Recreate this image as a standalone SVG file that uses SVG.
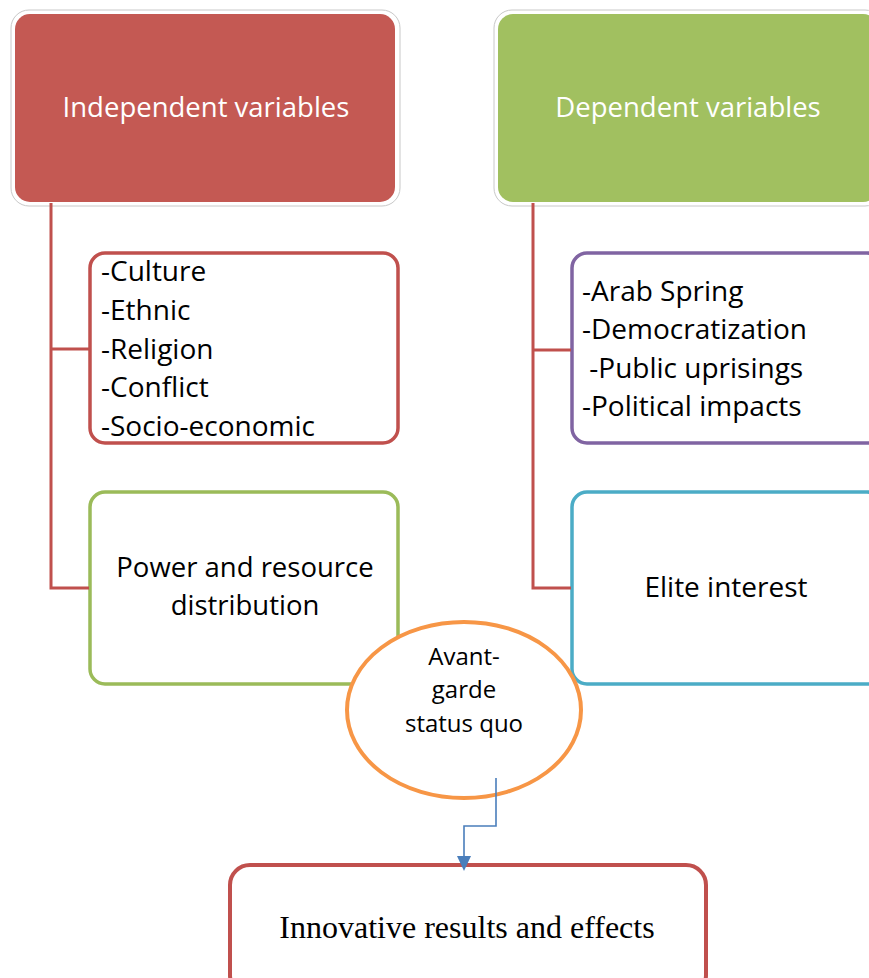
<svg xmlns="http://www.w3.org/2000/svg" width="869" height="978" viewBox="0 0 869 978">
<style>
.hdr{font-family:"Open Sans","Noto Sans",sans-serif;font-size:27.5px;fill:#ffffff;text-anchor:middle}
.lst{font-family:"Open Sans","Noto Sans",sans-serif;font-size:28px;fill:#000000}
.ctr{font-family:"Open Sans","Noto Sans",sans-serif;font-size:28px;fill:#000000;text-anchor:middle}
.ell{font-family:"Open Sans","Noto Sans",sans-serif;font-size:24px;fill:#000000;text-anchor:middle}
.tms{font-family:"Liberation Serif","Times New Roman",serif;font-size:32px;fill:#000000;text-anchor:middle}
.halo{fill:#ffffff;stroke:#c8c8c8;stroke-width:1}
.box{fill:#ffffff;stroke-width:3.5}
.conn{fill:none;stroke:#c0504d;stroke-width:3}
</style>
<rect width="869" height="978" fill="#ffffff"/>
<g id="independent">
<rect class="halo" x="11" y="10" width="389" height="196" rx="18"/>
<rect x="15" y="14" width="380" height="188" rx="15" fill="#c45953"/>
<text class="hdr" x="206" y="117">Independent variables</text>
</g>
<g id="dependent">
<rect class="halo" x="494" y="10" width="389" height="196" rx="18"/>
<rect x="498" y="14" width="380" height="188" rx="15" fill="#a1c060"/>
<text class="hdr" x="688" y="117">Dependent variables</text>
</g>
<g id="factors">
<rect class="box" x="90" y="253" width="308" height="190" rx="15" stroke="#c0504d"/>
<text class="lst" x="101" y="281">-Culture</text>
<text class="lst" x="101" y="320">-Ethnic</text>
<text class="lst" x="101" y="359">-Religion</text>
<text class="lst" x="101" y="397">-Conflict</text>
<text class="lst" x="101" y="436">-Socio-economic</text>
</g>
<g id="power">
<rect class="box" x="90" y="492" width="308" height="192" rx="15" stroke="#9bbb59"/>
<text class="ctr" x="245" y="577" style="font-size:27.5px">Power and resource</text>
<text class="ctr" x="245" y="615" style="font-size:27.5px">distribution</text>
</g>
<g id="outcomes">
<rect class="box" x="572" y="253" width="310" height="190" rx="15" stroke="#8064a2"/>
<text class="lst" x="582" y="301">-Arab Spring</text>
<text class="lst" x="582" y="339">-Democratization</text>
<text class="lst" x="582" y="378" xml:space="preserve"> -Public uprisings</text>
<text class="lst" x="582" y="416">-Political impacts</text>
</g>
<g id="elite">
<rect class="box" x="572" y="492" width="310" height="192" rx="15" stroke="#4bacc6"/>
<text class="ctr" x="726" y="597">Elite interest</text>
</g>
<g id="avantgarde">
<ellipse cx="464" cy="710" rx="117" ry="88" fill="#ffffff" stroke="#f79646" stroke-width="4"/>
<text class="ell" x="464" y="665">Avant-</text>
<text class="ell" x="464" y="698">garde</text>
<text class="ell" x="464" y="732">status quo</text>
</g>
<g id="results">
<rect x="230" y="865" width="476" height="130" rx="20" fill="#ffffff" stroke="#c0504d" stroke-width="4"/>
<text class="tms" x="467" y="938">Innovative results and effects</text>
</g>
<g id="connectors">
<path class="conn" d="M51,203 V588 H89 M51,349 H89"/>
<path class="conn" d="M533,203 V588 H571 M533,350 H571"/>
<path d="M496,778 V826 H464 V857" fill="none" stroke="#4a7ebb" stroke-width="1.6"/>
<path d="M457,856 L471,856 L464,871 Z" fill="#4a7ebb"/>
</g>
</svg>
